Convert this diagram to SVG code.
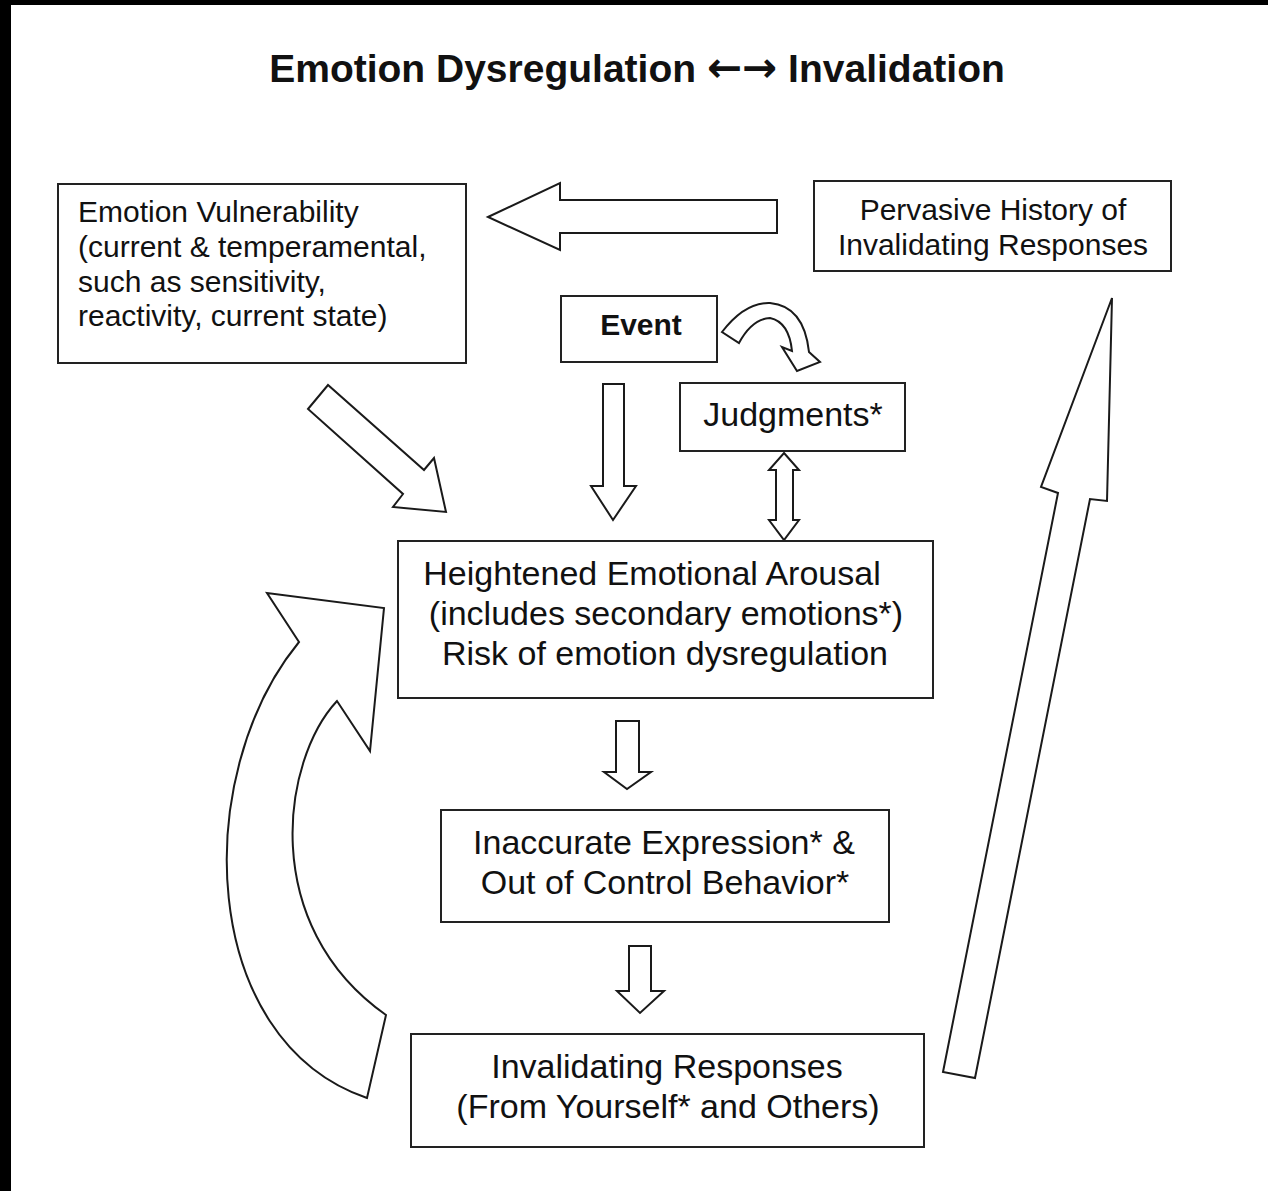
<svg xmlns="http://www.w3.org/2000/svg" width="1268" height="1191" viewBox="0 0 1268 1191">
<style>
.box{fill:#fff;stroke:#222;stroke-width:2}
.arr{fill:#fff;stroke:#1a1a1a;stroke-width:2;stroke-linejoin:miter}
text{font-family:"Liberation Sans",Arial,sans-serif;fill:#111}
.t30{font-size:30px}
.t34{font-size:34px}
.mid{text-anchor:middle}
</style>
<rect x="0" y="0" width="1268" height="1191" fill="#fff"/>
<rect x="0" y="0" width="1268" height="5" fill="#000"/>
<rect x="0" y="0" width="11" height="1191" fill="#000"/>
<text id="title" x="637" y="82" class="mid" style="font-size:39px;font-weight:bold">Emotion Dysregulation <tspan style="font-family:'DejaVu Sans',sans-serif;font-size:42px">←→</tspan> Invalidation</text>

<g id="connectors">
<path class="arr" d="M488,217 L560,183 L560,200 L777,200 L777,233 L560,233 L560,250 Z"/>
<path class="arr" d="M308,409 L328,385 L424,470 L434,458 L446,512 L393,507 L403,494 Z"/>
<path class="arr" d="M603,384 L624,384 L624,486 L636,486 L613,520 L591,486 L603,486 Z"/>
<path class="arr" d="M722,332 Q745,302 770,303 Q804,306 809,352 L820,362 L797,371 L782,347 L792,351 Q789,322 770,318 Q752,319 739,343 Z"/>
<path class="arr" d="M784,453 L799,470 L793,470 L793,520 L799,520 L784,540 L769,520 L776,520 L776,470 L769,470 Z"/>
<path class="arr" d="M616,721 L639,721 L639,772 L651,772 L627,789 L604,772 L616,772 Z"/>
<path class="arr" d="M629,946 L651,946 L651,991 L664,991 L640,1013 L617,991 L629,991 Z"/>
<path class="arr" d="M299,642 L267,593 L384,608 L370,751 L337,701 C282,760 258,925 386,1015 L367,1098 C198,1040 190,775 299,642 Z"/>
<path class="arr" d="M943,1072 L1058,493 L1041,487 L1112,298 L1107,501 L1090,499 L975,1078 Z"/>
</g>

<g id="vulnerability">
<rect class="box" x="58" y="184" width="408" height="179"/>
<text class="t30" x="78" y="222">Emotion Vulnerability</text>
<text class="t30" x="78" y="257">(current &amp; temperamental,</text>
<text class="t30" x="78" y="292">such as sensitivity,</text>
<text class="t30" x="78" y="326">reactivity, current state)</text>
</g>
<g id="history">
<rect class="box" x="814" y="181" width="357" height="90"/>
<text class="t30 mid" x="993" y="220">Pervasive History of</text>
<text class="t30 mid" x="993" y="255">Invalidating Responses</text>
</g>
<g id="event">
<rect class="box" x="561" y="296" width="156" height="66"/>
<text class="t30 mid" x="641" y="335" style="font-weight:bold">Event</text>
</g>
<g id="judgments">
<rect class="box" x="680" y="383" width="225" height="68"/>
<text class="t34 mid" x="793" y="426">Judgments*</text>
</g>
<g id="arousal">
<rect class="box" x="398" y="541" width="535" height="157"/>
<text class="t34 mid" x="652" y="585">Heightened Emotional Arousal</text>
<text class="t34 mid" x="666" y="625">(includes secondary emotions*)</text>
<text class="t34 mid" x="665" y="665">Risk of emotion dysregulation</text>
</g>
<g id="expression">
<rect class="box" x="441" y="810" width="448" height="112"/>
<text class="t34 mid" x="664" y="854">Inaccurate Expression* &amp;</text>
<text class="t34 mid" x="665" y="894">Out of Control Behavior*</text>
</g>
<g id="responses">
<rect class="box" x="411" y="1034" width="513" height="113"/>
<text class="t34 mid" x="667" y="1078">Invalidating Responses</text>
<text class="t34 mid" x="668" y="1118">(From Yourself* and Others)</text>
</g>
</svg>
